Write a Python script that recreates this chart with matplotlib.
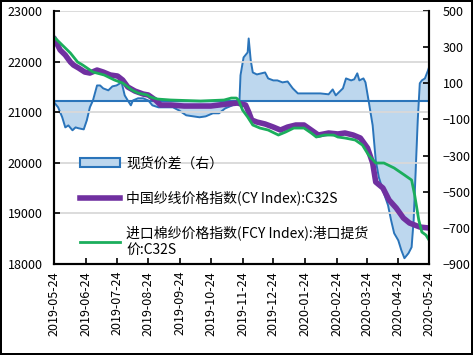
import matplotlib
matplotlib.use('Agg')
import matplotlib.pyplot as plt
import matplotlib.dates as mdates
from matplotlib.patches import Patch
from matplotlib.lines import Line2D
import pandas as pd

plt.rcParams['font.family'] = ['Noto Sans CJK SC', 'DejaVu Sans']

spread_dates = ['2019-05-24','2019-05-28','2019-06-01','2019-06-04','2019-06-07','2019-06-11','2019-06-14','2019-06-17','2019-06-22','2019-06-25',
                '2019-06-28','2019-07-01','2019-07-05','2019-07-08','2019-07-11','2019-07-16','2019-07-20','2019-07-24','2019-07-29','2019-08-01',
                '2019-08-04','2019-08-07','2019-08-09','2019-08-14','2019-08-19','2019-08-24','2019-08-28','2019-09-03','2019-09-10','2019-09-17',
                '2019-09-23','2019-09-30','2019-10-07','2019-10-13','2019-10-19','2019-10-26','2019-11-01','2019-11-07','2019-11-14','2019-11-19',
                '2019-11-21','2019-11-22','2019-11-25','2019-11-29','2019-11-30','2019-12-02','2019-12-04','2019-12-08','2019-12-16','2019-12-19',
                '2019-12-24','2019-12-28','2020-01-02','2020-01-07','2020-01-12','2020-01-17','2020-01-27','2020-02-08','2020-02-16','2020-02-20',
                '2020-02-23','2020-02-26','2020-03-01','2020-03-04','2020-03-09','2020-03-12','2020-03-15','2020-03-17','2020-03-21','2020-03-23',
                '2020-03-26','2020-03-30','2020-04-02','2020-04-05','2020-04-10','2020-04-14','2020-04-17','2020-04-20','2020-04-24','2020-04-27',
                '2020-04-30','2020-05-04','2020-05-07','2020-05-09','2020-05-11','2020-05-13','2020-05-15','2020-05-17','2020-05-20','2020-05-23',
                '2020-05-24']
spread = [-5,-33,-88,-144,-133,-160,-144,-149,-155,-105,
          -33,5,88,88,72,61,83,88,105,33,
          5,-22,5,17,17,5,-22,-33,-33,-33,
          -50,-77,-83,-88,-83,-66,-66,-39,-22,-6,
          5,144,243,271,348,227,160,149,160,127,
          116,116,105,110,72,44,44,44,39,66,
          33,50,72,127,116,122,155,116,127,105,
          5,-133,-326,-420,-509,-575,-658,-730,-769,-824,
          -868,-840,-807,-658,-382,-105,100,116,127,171,
          188]

cy_dates = ['2019-05-24','2019-05-30','2019-06-04','2019-06-09','2019-06-12','2019-06-17','2019-06-23','2019-06-28','2019-07-05','2019-07-11',
            '2019-07-18','2019-07-25','2019-07-30','2019-08-04','2019-08-11','2019-08-19','2019-08-24','2019-08-31','2019-09-05','2019-09-15',
            '2019-09-28','2019-10-09','2019-10-24','2019-11-09','2019-11-19','2019-11-27','2019-11-30','2019-12-03','2019-12-08','2019-12-16',
            '2019-12-24','2019-12-31','2020-01-07','2020-01-15','2020-01-23','2020-01-30','2020-02-06','2020-02-16','2020-02-25','2020-03-03',
            '2020-03-11','2020-03-18','2020-03-25','2020-03-30','2020-04-02','2020-04-09','2020-04-15','2020-04-22','2020-04-29','2020-05-05',
            '2020-05-15','2020-05-24']
cy = [22466,22229,22130,21992,21932,21873,21794,21774,21833,21794,
      21735,21715,21636,21498,21418,21359,21340,21241,21142,21142,
      21122,21122,21122,21162,21181,21142,21004,20845,20806,20767,
      20707,20648,20707,20747,20747,20648,20549,20589,20570,20589,
      20549,20490,20292,19996,19620,19502,19265,19107,18909,18810,
      18731,18711]

fcy_dates = ['2019-05-24','2019-05-30','2019-06-09','2019-06-16','2019-06-21','2019-07-01','2019-07-12','2019-07-22','2019-07-30','2019-08-08',
             '2019-08-14','2019-08-23','2019-08-26','2019-09-02','2019-09-15','2019-10-14','2019-11-06','2019-11-13','2019-11-18','2019-11-20',
             '2019-11-24','2019-11-29','2019-12-04','2019-12-11','2019-12-19','2019-12-29','2020-01-05','2020-01-13','2020-01-23','2020-01-30',
             '2020-02-04','2020-02-12','2020-02-21','2020-02-25','2020-03-03','2020-03-13','2020-03-20','2020-03-26','2020-04-02','2020-04-10',
             '2020-04-20','2020-04-30','2020-05-07','2020-05-10','2020-05-14','2020-05-17','2020-05-21','2020-05-24']
fcy = [22486,22367,22169,21992,21932,21794,21735,21636,21577,21438,
       21379,21340,21300,21260,21241,21221,21241,21280,21280,21241,
       21043,20905,20747,20687,20648,20549,20608,20687,20687,20589,
       20510,20549,20549,20510,20490,20450,20351,20154,19996,19996,
       19897,19759,19660,19363,18869,18632,18573,18474]

labels = ['现货价差（右）', '中国纱线价格指数(CY Index):C32S', '进口棉纱价格指数(FCY Index):港口提货\n价:C32S']

blue = '#2A74BA'
fill = '#BDD7EE'
purple = '#7030A0'
green = '#1BAE5C'
fs = 9

fig = plt.figure(figsize=(4.73, 3.55), dpi=100, linewidth=1.5, edgecolor='black')
ax = fig.add_axes([0.1142, 0.2563, 0.7928, 0.7127])
ax2 = ax.twinx()

sd = pd.to_datetime(spread_dates)
ax2.fill_between(sd, 0, spread, color=fill, lw=0)
ax2.plot(sd, spread, color=blue, lw=1.4)
ax2.axhline(0, color=blue, lw=1.5)
ax2.set_ylim(-900, 500)
ax2.set_yticks(range(-900, 501, 200))

ax.set_zorder(ax2.get_zorder() + 1)
ax.patch.set_visible(False)
ax.plot(pd.to_datetime(cy_dates), cy, color=purple, lw=4.0, solid_capstyle='round')
ax.plot(pd.to_datetime(fcy_dates), fcy, color=green, lw=2.0)
ax.set_ylim(18000, 23000)
ax.set_yticks(range(18000, 23001, 1000))
ax.grid(axis='y', color='#D9D9D9', lw=1.3)
ax.set_xlim(pd.Timestamp('2019-05-24'), pd.Timestamp('2020-05-24'))
ax.xaxis.set_major_locator(mdates.MonthLocator(bymonthday=24))
ax.xaxis.set_major_formatter(mdates.DateFormatter('%Y-%m-%d'))
for lab in ax.get_xticklabels():
    lab.set_rotation(90)

for a in (ax, ax2):
    a.tick_params(direction='in', length=4, width=1.2, labelsize=fs, colors='black')
    a.spines['top'].set_visible(False)
    for s in ('left', 'right', 'bottom'):
        a.spines[s].set_linewidth(1.5)
ax.tick_params(axis='y', pad=8)
ax.tick_params(axis='x', pad=5)
ax2.tick_params(axis='y', pad=10)

handles = [Patch(facecolor=fill, edgecolor=blue, lw=1.5),
           Line2D([], [], color=purple, lw=4.0),
           Line2D([], [], color=green, lw=2.0)]
ax.legend(handles, labels, loc='upper left', bbox_to_anchor=(0.069, 0.425), frameon=False,
          fontsize=10, handlelength=2.9, handletextpad=0.45, labelspacing=1.45,
          borderpad=0, borderaxespad=0)

fig.savefig('out.png', dpi=100)
